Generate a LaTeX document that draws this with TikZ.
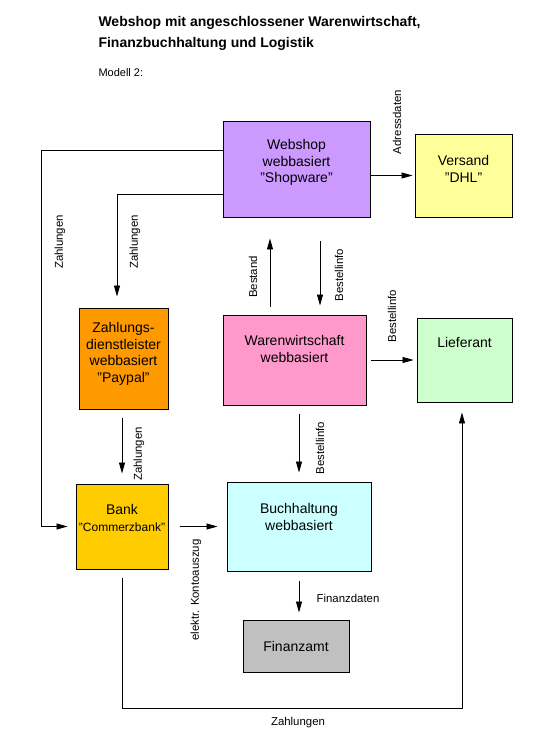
\documentclass[tikz,border=0pt]{standalone}
\usepackage{fontspec}
\setmainfont{Liberation Sans}
\usetikzlibrary{arrows.meta}

\definecolor{shopviolett}{HTML}{CC99FF}
\definecolor{versandgelb}{HTML}{FFFF99}
\definecolor{zahlorange}{HTML}{FF9900}
\definecolor{warenrosa}{HTML}{FF99CC}
\definecolor{liefergruen}{HTML}{CCFFCC}
\definecolor{bankgelb}{HTML}{FFCC00}
\definecolor{buchcyan}{HTML}{CCFFFF}
\definecolor{amtgrau}{HTML}{C0C0C0}

\begin{document}
\begin{tikzpicture}[x=1pt, y=-1pt,
    box/.style={draw, line width=0.9pt, inner sep=0pt},
    boxtext/.style={anchor=north, yshift=-#1, inner sep=0pt, align=center, font=\fontsize{14}{16.5}\selectfont},
    boxtext/.default=21pt,
    lbl/.style={font=\fontsize{11.4}{13}\selectfont, inner sep=1pt},
    arr/.style={-{Triangle[length=11pt,width=6pt]}, line width=0.8pt}]
      \useasboundingbox (0,0) rectangle (543,749);
      % title
      \node[anchor=base west, font=\bfseries\fontsize{14}{16}\selectfont] (titel1) at (95,27) {Webshop mit angeschlossener Warenwirtschaft,};
      \node[anchor=base west, font=\bfseries\fontsize{14}{16}\selectfont] (titel2) at (95,48) {Finanzbuchhaltung und Logistik};
      \node[anchor=base west, font=\fontsize{11}{13}\selectfont] (modell) at (95,77) {Modell 2:};
      % boxes
      \node[box, fill=shopviolett, minimum width=147pt, minimum height=96pt, label={[boxtext=19pt]north:{Webshop\\webbasiert\\"Shopware"}}] (webshop) at (296.5,169) {};
      \node[box, fill=versandgelb, minimum width=97pt, minimum height=83pt, label={[boxtext=22pt]north:{Versand\\"DHL"}}] (versand) at (463.5,175.5) {};
      \node[box, fill=zahlorange, minimum width=89pt, minimum height=101pt, label={[boxtext=15pt]north:{Zahlungs-\\dienstleister\\webbasiert\\"Paypal"}}] (zahlung) at (123.5,358.5) {};
      \node[box, fill=warenrosa, minimum width=143pt, minimum height=90pt, label={[boxtext]north:{Warenwirtschaft\\webbasiert}}] (waren) at (294.5,360) {};
      \node[box, fill=liefergruen, minimum width=95pt, minimum height=84pt, label={[boxtext=20pt]north:{Lieferant}}] (lieferant) at (464.5,360) {};
      \node[box, fill=bankgelb, minimum width=92pt, minimum height=85pt, label={[boxtext]north:{Bank\\\fontsize{12}{16.5}\selectfont"Commerzbank"}}] (bank) at (122,526.5) {};
      \node[box, fill=buchcyan, minimum width=144pt, minimum height=89pt, label={[boxtext=22pt]north:{Buchhaltung\\webbasiert}}] (buch) at (299,526.5) {};
      \node[box, fill=amtgrau, minimum width=106pt, minimum height=52pt, font=\fontsize{14}{16.5}\selectfont] (finanzamt) at (296,646) {Finanzamt};
      % corners of the long connectors
      \coordinate (eckeA) at (41,150);
      \coordinate (eckeB) at (117,194);
      \coordinate (eckeC) at (462,708);
      % connectors
      \draw[arr, shorten <=1pt, shorten >=2pt] (webshop.east |- versand.west) -- (versand.west);
      \draw[arr, shorten >=8pt] (webshop.west |- eckeA) -- (eckeA) |- (bank.west);
      \draw[arr, shorten >=11pt] (webshop.west |- eckeB) -- (eckeB) -- (eckeB |- zahlung.north);
      \draw[arr, shorten <=8pt, shorten >=21pt] ([xshift=-24.5pt]waren.north) -- ([xshift=-24.5pt]waren.north |- webshop.south);
      \draw[arr, shorten <=24pt, shorten >=9pt] ([xshift=25.5pt]waren.north |- webshop.south) -- ([xshift=25.5pt]waren.north);
      \draw[arr, shorten <=5pt, shorten >=3pt] (waren.east) -- (lieferant.west);
      \draw[arr, shorten <=9pt, shorten >=10pt] (zahlung.south -| bank.north) -- (bank.north);
      \draw[arr, shorten <=9pt, shorten >=9pt] (waren.south -| buch.north) -- (buch.north);
      \draw[arr, shorten <=12pt, shorten >=9pt] (bank.east) -- (buch.west);
      \draw[arr, shorten <=10pt, shorten >=7pt] (buch.south) -- (buch.south |- finanzamt.north);
      \draw[arr, shorten <=9pt, shorten >=10pt] (bank.south) |- (eckeC) -- (eckeC |- lieferant.south);
      % connector labels
      \node[lbl, rotate=90] (zahlA) at (60,242) {Zahlungen};
      \node[lbl, rotate=90] (zahlB) at (135,242) {Zahlungen};
      \node[lbl, rotate=90] (adresse) at (397,122) {Adressdaten};
      \node[lbl, rotate=90] (bestand) at (253,277) {Bestand};
      \node[lbl, rotate=90] (bestA) at (339,275) {Bestellinfo};
      \node[lbl, rotate=90] (bestB) at (392,316) {Bestellinfo};
      \node[lbl, rotate=90] (zahlC) at (139,454) {Zahlungen};
      \node[lbl, rotate=90] (bestC) at (320,448) {Bestellinfo};
      \node[lbl, rotate=90] (konto) at (196,590) {elektr. Kontoauszug};
      \node[lbl] (finanzd) at (348,598) {Finanzdaten};
      \node[lbl] (zahlD) at (298,723) {Zahlungen};
\end{tikzpicture}
\end{document}
